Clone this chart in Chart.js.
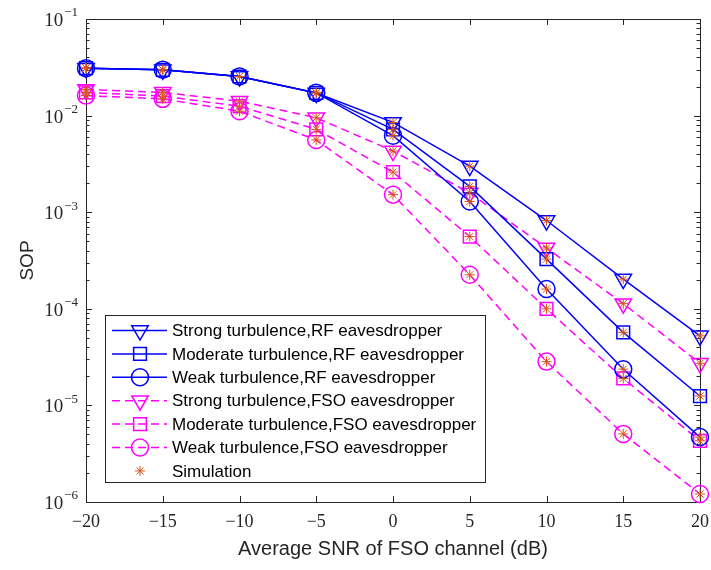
<!DOCTYPE html>
<html>
<head>
<meta charset="utf-8">
<script src="https://cdn.jsdelivr.net/npm/chart.js@4/dist/chart.umd.min.js"></script>
<style>
  html, body { margin: 0; padding: 0; background: #fff; }
</style>
</head>
<body>
<canvas id="sop-chart" width="711" height="570"></canvas>
<script>
// SOP vs average SNR of the FSO channel
const snr = [-20, -15, -10, -5, 0, 5, 10, 15, 20];
const strongRF    = [0.0310, 0.0298, 0.0254, 0.0171, 0.0085, 0.0030, 8.2e-4, 2.03e-4, 5.25e-5];
const moderateRF  = [0.0310, 0.0298, 0.0254, 0.0172, 0.0072, 0.00185, 3.27e-4, 5.7e-5, 1.25e-5];
const weakRF      = [0.0310, 0.0298, 0.0254, 0.0172, 0.0062, 0.00129, 1.6e-4, 2.37e-5, 4.7e-6];
const strongFSO   = [0.0186, 0.0174, 0.0141, 0.0095, 0.0043, 0.00158, 4.26e-4, 1.13e-4, 2.73e-5];
const moderateFSO = [0.0174, 0.0159, 0.0125, 0.0072, 0.0026, 5.6e-4, 1.0e-4, 1.9e-5, 4.3e-6];
const weakFSO     = [0.0161, 0.0149, 0.0111, 0.0056, 0.00152, 2.25e-4, 2.84e-5, 5.07e-6, 1.21e-6];

const xTickLabels = ['\u221220', '\u221215', '\u221210', '\u22125', '0', '5', '10', '15', '20'];
const yTickValues = [1e-6, 1e-5, 1e-4, 1e-3, 1e-2, 1e-1];
const yTickExponents = ['\u22126', '\u22125', '\u22124', '\u22123', '\u22122', '\u22121'];

const axisColor = '#262626';
const BLUE = '#0000ff', MAGENTA = '#ff00ff', SIM = '#d95319';

const series = [
  { label: 'Strong turbulence,RF eavesdropper',    values: strongRF,    color: BLUE,    marker: 'triangle', r: 9.5, dash: [] },
  { label: 'Moderate turbulence,RF eavesdropper',  values: moderateRF,  color: BLUE,    marker: 'rect',     r: 9,   dash: [] },
  { label: 'Weak turbulence,RF eavesdropper',      values: weakRF,      color: BLUE,    marker: 'circle',   r: 8.5, dash: [] },
  { label: 'Strong turbulence,FSO eavesdropper',   values: strongFSO,   color: MAGENTA, marker: 'triangle', r: 9.5, dash: [8, 5] },
  { label: 'Moderate turbulence,FSO eavesdropper', values: moderateFSO, color: MAGENTA, marker: 'rect',     r: 9,   dash: [8, 5] },
  { label: 'Weak turbulence,FSO eavesdropper',     values: weakFSO,     color: MAGENTA, marker: 'circle',   r: 8.5, dash: [8, 5] }
];

const datasets = series.map(s => ({
  label: s.label,
  data: snr.map((x, i) => ({ x: x, y: s.values[i] })),
  borderColor: s.color,
  borderWidth: 1.5,
  borderDash: s.dash,
  fill: false,
  tension: 0,
  pointStyle: s.marker,
  pointRotation: s.marker === 'triangle' ? 180 : 0,
  pointRadius: s.r,
  pointBorderWidth: 1.5,
  pointBorderColor: s.color,
  pointBackgroundColor: 'rgba(0,0,0,0)',
  clip: false
}));

// simulation stars sit on every analytical point
datasets.push({
  label: 'Simulation',
  data: series.flatMap(s => snr.map((x, i) => ({ x: x, y: s.values[i] }))),
  showLine: false,
  pointStyle: 'star',
  pointRadius: 5,
  pointBorderWidth: 1,
  pointBorderColor: SIM,
  pointBackgroundColor: SIM,
  clip: false,
  order: -1
});

function drawMarker(ctx, style, x, y, r) {
  ctx.beginPath();
  if (style === 'triangle') {
    ctx.moveTo(x, y + r);
    ctx.lineTo(x - r * 0.866, y - r / 2);
    ctx.lineTo(x + r * 0.866, y - r / 2);
    ctx.closePath();
  } else if (style === 'rect') {
    const h = r * Math.SQRT1_2;
    ctx.rect(x - h, y - h, 2 * h, 2 * h);
  } else if (style === 'circle') {
    ctx.arc(x, y, r, 0, Math.PI * 2);
  } else if (style === 'star') {
    for (let k = 0; k < 4; k++) {
      const a = k * Math.PI / 4;
      ctx.moveTo(x - Math.cos(a) * r, y - Math.sin(a) * r);
      ctx.lineTo(x + Math.cos(a) * r, y + Math.sin(a) * r);
    }
  }
  ctx.stroke();
}

const axesBox = {
  id: 'axesBox',
  beforeDatasetsDraw(chart) {
    const { ctx, chartArea: a, scales } = chart;
    ctx.save();
    ctx.strokeStyle = axisColor;
    ctx.lineWidth = 1;
    ctx.strokeRect(a.left + 0.5, a.top + 0.5, a.right - a.left, a.bottom - a.top);
    ctx.beginPath();
    // x ticks, bottom and top
    snr.forEach(v => {
      const px = Math.round(scales.x.getPixelForValue(v)) + 0.5;
      ctx.moveTo(px, a.bottom); ctx.lineTo(px, a.bottom - 6);
      ctx.moveTo(px, a.top); ctx.lineTo(px, a.top + 6);
    });
    // y ticks, major and minor, left and right
    for (let e = -6; e <= -1; e++) {
      for (let k = 1; k <= 9; k++) {
        const v = k * Math.pow(10, e);
        if (v > 0.1 + 1e-12) break;
        const py = Math.round(scales.y.getPixelForValue(v)) + 0.5;
        const len = k === 1 ? 6 : 3.5;
        ctx.moveTo(a.left, py); ctx.lineTo(a.left + len, py);
        ctx.moveTo(a.right, py); ctx.lineTo(a.right - len, py);
      }
    }
    ctx.stroke();

    // y tick labels 10^n
    ctx.fillStyle = axisColor;
    ctx.textBaseline = 'middle';
    yTickValues.forEach((v, i) => {
      const py = scales.y.getPixelForValue(v);
      ctx.font = '13px "Liberation Serif"';
      const ew = ctx.measureText(yTickExponents[i]).width;
      const ex = a.left - 8 - ew;
      ctx.textAlign = 'left';
      ctx.fillText(yTickExponents[i], ex, py - 6);
      ctx.font = '19px "Liberation Serif"';
      ctx.textAlign = 'right';
      ctx.fillText('10', ex - 1, py + 2);
    });
    ctx.restore();
  },
  afterDatasetsDraw(chart) {
    const ctx = chart.ctx;
    const box = { left: 105.5, top: 315.5, width: 380, height: 167 };
    ctx.save();
    ctx.fillStyle = '#fff';
    ctx.strokeStyle = axisColor;
    ctx.lineWidth = 1;
    ctx.fillRect(box.left, box.top, box.width, box.height);
    ctx.strokeRect(box.left, box.top, box.width, box.height);
    const rows = series.map(s => s).concat([{ label: 'Simulation', color: SIM, marker: 'star', r: 5, dash: null }]);
    rows.forEach((s, i) => {
      const y = 330.5 + i * 23.4;
      if (s.dash) {
        ctx.strokeStyle = s.color;
        ctx.lineWidth = 1.5;
        ctx.setLineDash(s.dash);
        ctx.beginPath();
        ctx.moveTo(112, y); ctx.lineTo(167, y);
        ctx.stroke();
        ctx.setLineDash([]);
      }
      ctx.strokeStyle = s.color;
      ctx.lineWidth = s.marker === 'star' ? 1 : 1.5;
      drawMarker(ctx, s.marker, 140, y, s.r);
      ctx.fillStyle = '#000';
      ctx.font = '17px "Liberation Sans"';
      ctx.textAlign = 'left';
      ctx.textBaseline = 'middle';
      ctx.fillText(s.label, 172, y + 1);
    });
    ctx.restore();
  }
};

new Chart(document.getElementById('sop-chart').getContext('2d'), {
  type: 'line',
  data: { datasets: datasets },
  options: {
    responsive: false,
    animation: false,
    layout: { padding: { left: 0, right: 5, top: 19, bottom: 0 } },
    plugins: { legend: { display: false }, tooltip: { enabled: false } },
    scales: {
      x: {
        type: 'linear',
        min: -20,
        max: 20,
        afterBuildTicks: s => { s.ticks = snr.map(v => ({ value: v })); },
        afterFit: s => { s.height = 68; s.paddingLeft = 0; s.paddingRight = 0; },
        grid: { display: false, drawTicks: false },
        border: { display: false },
        ticks: {
          autoSkip: false,
          maxRotation: 0,
          padding: 9,
          color: axisColor,
          font: { family: 'Liberation Serif', size: 18 },
          callback: (v, i) => xTickLabels[i]
        },
        title: {
          display: true,
          text: 'Average SNR of FSO channel (dB)',
          color: axisColor,
          font: { family: 'Liberation Sans', size: 20 },
          padding: { top: 0, bottom: 9 }
        }
      },
      y: {
        type: 'logarithmic',
        min: 1e-6,
        max: 1e-1,
        afterBuildTicks: s => { s.ticks = yTickValues.map(v => ({ value: v })); },
        afterFit: s => { s.width = 86; s.paddingTop = 0; s.paddingBottom = 0; },
        grid: { display: false, drawTicks: false },
        border: { display: false },
        ticks: { display: false },
        title: {
          display: true,
          text: 'SOP',
          color: axisColor,
          font: { family: 'Liberation Sans', size: 19 },
          padding: { top: 16, bottom: 0 }
        }
      }
    }
  },
  plugins: [axesBox]
});
</script>
</body>
</html>
